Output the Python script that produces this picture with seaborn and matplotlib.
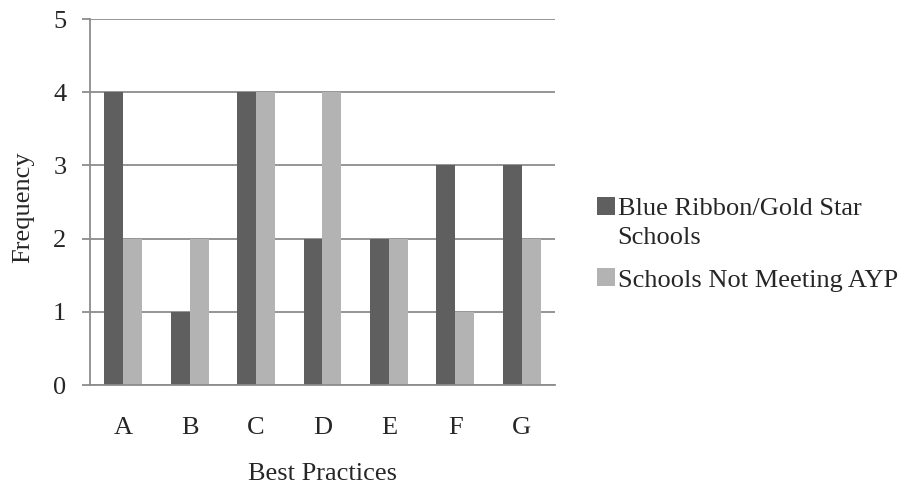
import matplotlib
matplotlib.use("Agg")
import matplotlib.pyplot as plt
import seaborn as sns
import pandas as pd

# Counts of best practices by school group
practices = ["A", "B", "C", "D", "E", "F", "G"]
blue_ribbon = [4, 1, 4, 2, 2, 3, 3]
not_meeting_ayp = [2, 2, 4, 4, 2, 1, 2]
series_names = ["Blue Ribbon/Gold Star Schools", "Schools Not Meeting AYP"]
y_ticks = [0, 1, 2, 3, 4, 5]

df = pd.DataFrame({
    "Best Practices": practices * 2,
    "Frequency": blue_ribbon + not_meeting_ayp,
    "Group": [series_names[0]] * len(practices) + [series_names[1]] * len(practices),
})

sns.set_style("white")
plt.rcParams["font.family"] = ["Liberation Serif", "DejaVu Serif"]

FS = 19
grid_gray = "#8c8c8c"
fig = plt.figure(figsize=(9.06, 4.87), dpi=100)
ax = fig.add_axes([90 / 906, 1 - 385 / 487, 465 / 906, 366 / 487])

sns.barplot(data=df, x="Best Practices", y="Frequency", hue="Group",
            palette=["#5f5f5f", "#b3b3b3"], width=0.57, gap=0,
            saturation=1, linewidth=0, ax=ax, legend=True)

ax.set_ylim(0, 5)
ax.set_xlim(-0.5, len(practices) - 0.5)
ax.set_yticks(y_ticks)
ax.set_yticklabels([str(t) for t in y_ticks], fontsize=FS)
ax.set_axisbelow(True)
ax.yaxis.grid(True, color=grid_gray, linewidth=1.3)
ax.xaxis.grid(False)

# Category boundaries as tick marks, labels centred in each category
ax.set_xticks(range(len(practices)))
ax.set_xticklabels(practices, fontsize=FS)
ax.set_xticks([i - 0.5 for i in range(len(practices) + 1)], minor=True)
ax.tick_params(axis="x", which="major", length=0, pad=23)
ax.tick_params(axis="x", which="minor", length=6, width=1.3, color=grid_gray, direction="out")
ax.tick_params(axis="y", which="major", left=True, length=6, width=1.3, color=grid_gray, pad=11)

for side in ["top", "right"]:
    ax.spines[side].set_visible(False)
for side in ["left", "bottom"]:
    ax.spines[side].set_color(grid_gray)
    ax.spines[side].set_linewidth(1.3)

ax.set_xlabel("Best Practices", fontsize=FS)
ax.set_ylabel("Frequency", fontsize=FS)
ax.xaxis.set_label_coords(0.5, (385 - 463) / 366)
ax.yaxis.set_label_coords((34 - 90) / 465, (385 - 207.5) / 366)

handles, _ = ax.get_legend_handles_labels()
leg = ax.legend(handles, ["Blue Ribbon/Gold Star", "Schools Not Meeting AYP"],
                loc="upper left", bbox_to_anchor=(597 / 906, 1 - 197 / 487),
                bbox_transform=fig.transFigure, frameon=False, fontsize=FS,
                handlelength=0.68, handleheight=0.68, handletextpad=0.1,
                labelspacing=1.82, borderpad=0, borderaxespad=0)

fig.canvas.draw()
first = leg.get_texts()[0]
bb = first.get_window_extent()
fig.text(bb.x0 / fig.bbox.width, (bb.y0 - 29) / fig.bbox.height, "Schools",
         fontsize=FS, ha="left", va="bottom")

fig.savefig("out.png", dpi=100)
